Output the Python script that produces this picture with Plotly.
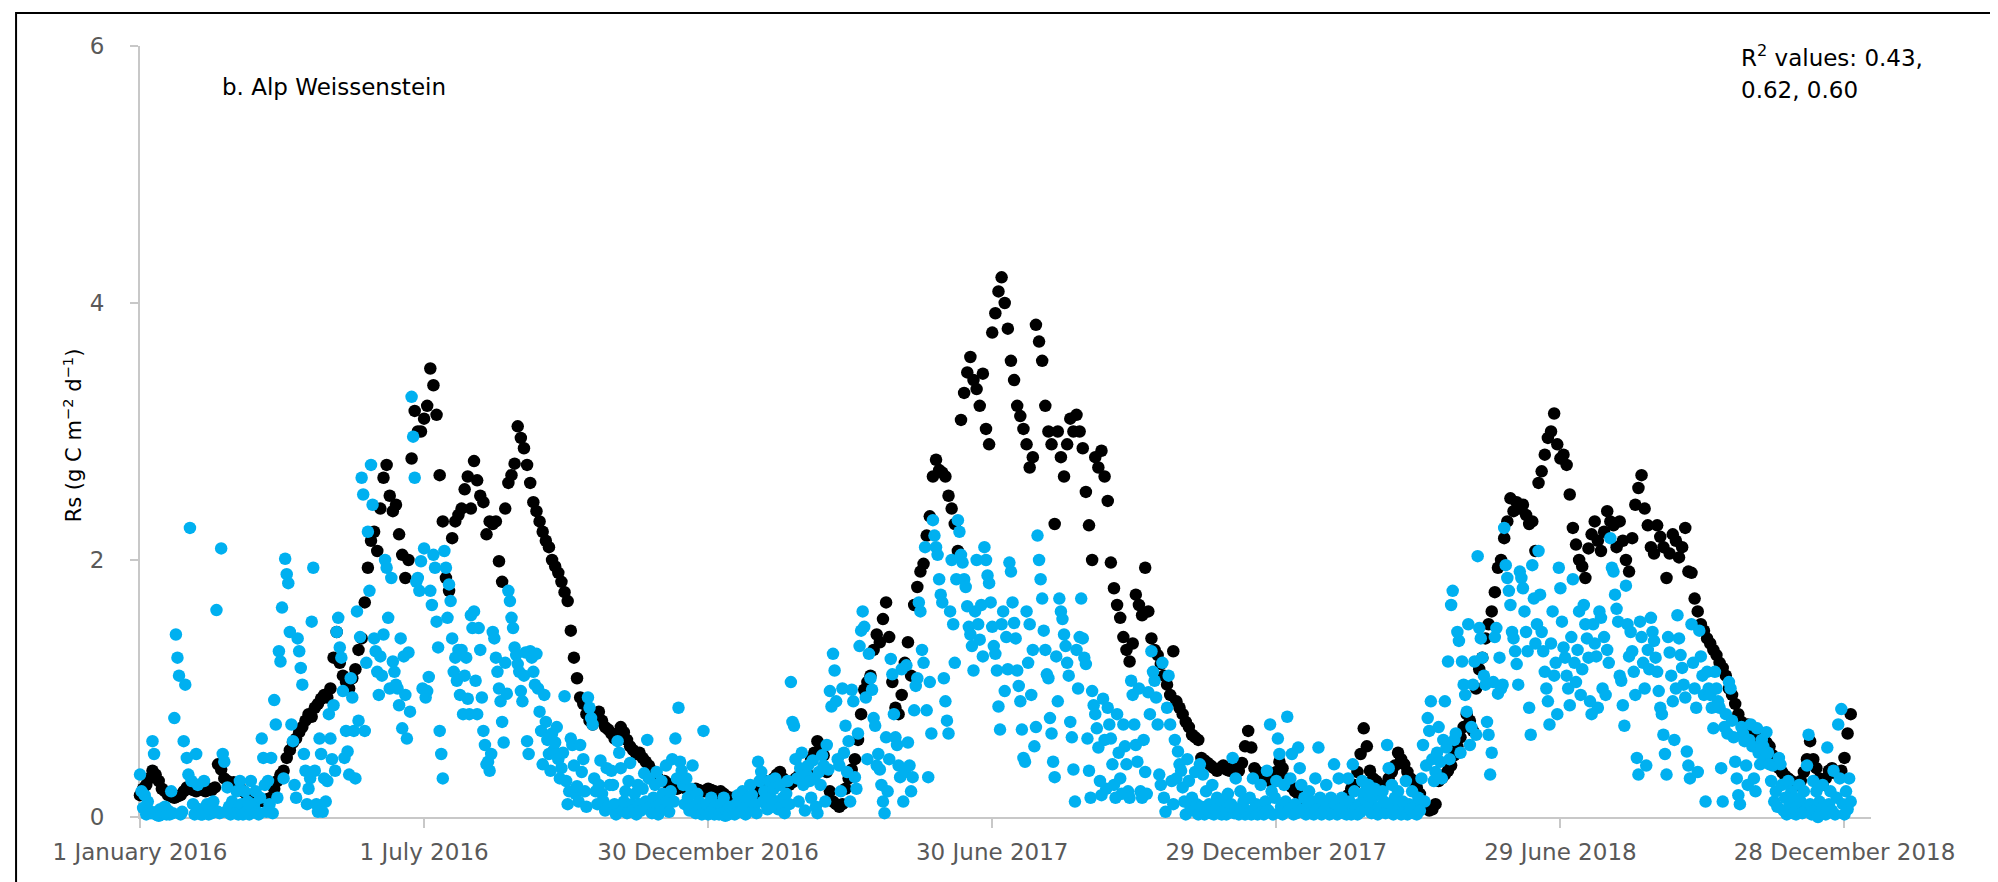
import pandas as pd
import plotly.graph_objects as go

# ---------------- data (values in g C m-2 d-1 x 100) ----------------
START_DATE = "2016-01-01"

# modelled Rs, one value every 2 days starting 1 Jan 2016 (black)
modelled_x100 = [
    17,22,25,30,36,33,28,22,20,17,
    16,15,16,17,20,23,22,21,20,22,
    21,20,22,21,23,41,37,30,28,25,
    27,24,23,20,18,17,15,13,12,13,
    12,14,15,22,28,33,36,46,52,58,
    61,66,70,75,80,78,85,88,92,95,
    93,100,124,144,120,110,105,100,108,115,
    130,139,167,194,215,222,207,240,264,274,
    250,238,243,220,204,186,200,279,316,300,
    300,310,320,349,336,313,266,230,186,176,
    217,230,235,240,255,265,240,277,262,250,
    245,220,230,228,230,199,183,240,260,266,
    275,304,295,287,274,260,245,238,230,222,
    215,210,200,195,190,183,175,168,145,124,
    108,93,88,80,75,72,80,82,75,70,
    68,65,61,65,70,66,60,55,52,49,
    50,46,43,40,36,32,30,28,28,26,
    25,24,22,23,24,22,20,21,22,21,
    20,20,22,21,20,18,20,18,16,15,
    15,13,12,14,12,13,15,18,22,25,
    28,24,26,30,33,35,30,28,25,27,
    30,32,28,30,33,45,50,59,55,48,
    35,20,12,10,8,10,22,30,37,45,
    60,80,99,105,110,130,142,136,154,167,
    140,105,85,80,95,120,136,110,165,179,
    191,197,219,234,265,278,270,268,265,250,
    240,228,207,309,330,346,358,340,333,320,
    345,302,290,377,392,409,420,400,380,355,
    340,320,312,302,290,272,280,383,370,355,
    320,300,290,228,300,280,265,290,310,300,
    313,300,287,253,227,200,280,272,285,265,
    246,198,178,165,155,140,130,121,135,173,
    165,157,194,160,139,130,126,119,110,103,
    95,129,90,85,80,74,70,64,62,60,
    46,44,42,40,38,36,38,40,37,36,
    38,40,36,42,55,67,54,38,35,33,
    30,32,28,30,35,43,38,30,28,23,
    20,18,15,14,12,12,10,9,8,8,
    7,8,7,8,9,10,15,17,22,25,
    35,49,69,55,36,30,28,25,23,25,
    30,35,40,50,45,41,35,30,28,23,
    18,12,8,5,6,10,28,30,33,36,
    40,48,55,62,70,80,75,67,100,115,
    124,139,150,160,175,194,200,217,230,248,
    238,245,240,243,235,228,230,207,260,269,
    282,295,300,314,290,279,282,274,251,225,
    212,200,195,186,209,220,230,215,207,222,
    238,230,227,210,230,215,200,191,217,243,
    256,266,240,227,210,205,227,218,210,186,
    205,220,215,202,210,225,191,190,170,160,
    150,145,139,135,130,126,120,116,110,100,
    95,88,80,74,70,72,68,65,62,60,
    60,58,55,48,41,38,35,32,30,28,
    26,25,28,35,45,59,45,38,30,25,
    30,36,38,34,33,36,46,65,80,
]

# measured Rs, daily values starting 1 Jan 2016 (light blue)
measured_x100 = [
    33,20,7,17,2,12,5,3,59,49,
    2,4,1,6,2,3,8,2,5,2,
    20,3,77,142,124,110,2,4,59,103,
    46,33,225,28,10,2,49,25,6,2,
    2,28,4,10,2,6,3,12,5,161,
    4,3,209,49,43,4,23,8,2,12,
    5,3,20,2,28,10,2,20,4,12,
    2,28,6,10,20,4,2,15,61,46,
    25,4,28,10,46,3,91,72,15,129,
    121,163,30,201,189,182,144,72,59,25,
    15,139,129,116,103,49,36,10,22,30,
    152,194,36,10,4,61,49,4,30,12,
    28,80,61,45,87,36,144,155,132,124,
    98,46,67,51,33,108,93,67,30,160,
    75,140,264,251,67,120,222,176,274,243,
    139,129,113,95,125,110,142,200,194,155,
    100,186,121,113,103,100,87,139,69,125,
    95,61,128,82,327,296,264,183,186,176,
    199,100,209,93,98,109,176,165,204,194,
    152,132,67,49,30,207,194,155,181,168,
    139,113,124,106,130,95,130,80,110,124,
    92,80,157,147,160,106,80,147,130,93,
    67,56,41,43,36,49,144,139,124,113,
    100,90,74,58,120,96,176,168,155,147,
    132,126,119,113,98,90,110,128,59,49,
    129,124,113,103,127,100,82,67,41,95,
    74,60,49,36,65,52,58,70,45,30,
    38,50,94,28,10,20,61,56,40,18,
    24,12,56,35,45,20,8,93,85,77,
    72,30,20,10,25,44,18,12,5,38,
    8,25,36,25,10,2,59,50,38,5,
    12,20,3,28,42,10,5,18,2,25,
    10,5,22,34,12,60,30,8,3,15,
    25,35,2,10,28,18,6,40,12,4,
    20,45,12,61,30,85,43,36,25,10,
    30,15,5,22,40,8,3,18,12,6,
    2,67,5,10,2,3,15,5,2,8,
    4,2,10,3,15,1,5,2,8,3,
    6,2,10,17,12,4,20,10,2,14,
    8,25,17,5,10,3,43,28,35,12,
    20,10,6,28,15,8,22,30,12,6,
    25,9,15,3,18,28,10,105,74,71,
    45,30,12,38,50,25,5,33,40,28,
    15,44,30,8,3,35,25,48,40,12,
    56,37,98,86,127,114,90,45,40,20,
    100,50,71,35,59,12,99,90,31,22,
    65,133,145,160,148,93,45,127,108,99,
    77,71,40,49,37,25,12,3,62,20,
    45,123,111,80,62,56,40,31,115,12,
    35,118,58,40,20,31,83,102,108,167,
    160,130,120,210,83,31,105,65,231,219,
    210,204,185,173,167,108,90,75,65,160,
    200,150,120,185,231,222,204,198,185,179,
    164,148,142,133,114,160,200,150,138,165,
    125,210,200,188,182,167,148,133,127,114,
    86,68,150,160,98,140,115,198,191,167,
    151,139,114,102,90,68,46,43,160,120,
    150,95,130,55,70,219,200,185,170,145,
    130,111,108,77,65,43,31,125,90,170,
    160,154,142,133,120,110,74,62,37,12,
    130,100,140,170,139,124,119,61,36,15,
    98,87,80,69,54,28,17,92,60,22,
    85,72,61,41,25,15,80,50,30,18,
    72,55,41,20,15,106,95,72,56,43,
    100,20,15,60,35,18,97,80,129,113,
    106,93,72,33,25,120,15,4,85,110,
    72,28,10,60,30,51,41,36,23,12,
    2,45,28,8,15,5,35,10,2,41,
    8,33,2,20,5,10,3,25,2,6,
    15,3,8,2,12,5,2,18,4,10,
    46,3,30,6,2,20,8,12,2,5,
    3,15,2,30,6,10,2,8,25,4,
    2,12,36,5,72,20,2,15,28,61,
    49,8,2,25,12,78,5,30,49,2,
    10,3,54,38,25,6,15,2,8,20,
    3,12,2,30,6,54,15,2,10,5,
    25,8,2,15,3,41,10,2,30,6,
    15,3,8,2,30,12,2,41,20,6,
    2,10,4,28,15,20,6,25,10,3,
    15,22,5,2,18,8,20,12,3,56,
    38,10,25,2,15,5,20,8,2,12,
    4,28,2,10,6,20,3,8,2,15,
    5,30,56,12,40,77,67,90,45,28,
    35,50,70,43,30,60,90,54,121,45,
    165,176,60,65,144,137,50,121,103,95,
    82,150,56,70,103,121,64,203,147,139,
    124,110,103,74,64,33,50,105,140,147,
    96,124,100,103,225,196,186,176,165,144,
    139,129,119,103,191,186,178,160,144,129,
    85,64,196,170,135,150,207,173,144,129,
    113,100,90,72,135,160,110,120,80,194,
    178,152,132,124,110,100,87,140,185,120,
    105,130,160,95,115,165,150,139,124,90,
    80,150,135,125,85,160,155,100,140,95,
    130,120,217,194,191,173,162,152,110,106,
    87,71,180,150,125,144,129,113,95,46,
    33,152,140,120,100,40,130,115,155,144,
    137,124,113,98,85,80,64,49,33,140,
    128,110,90,60,100,157,139,126,116,103,
    93,51,40,30,150,120,100,85,35,145,
    125,110,95,12,113,100,95,85,69,113,
    100,90,85,38,12,70,80,65,105,100,
    75,62,43,30,17,10,70,65,59,40,
    25,60,72,55,30,20,69,50,41,60,
    55,45,66,50,41,28,40,12,20,8,
    46,41,25,5,15,2,28,10,20,3,
    15,2,8,25,12,3,20,5,40,64,
    10,2,28,5,20,0,12,3,25,8,
    2,54,10,20,5,36,2,15,72,30,
    84,10,2,20,6,30,12,
]

tick_dates = ["2016-01-01", "2016-07-01", "2016-12-30", "2017-06-30",
              "2017-12-29", "2018-06-29", "2018-12-28"]
tick_labels = ["1 January 2016", "1 July 2016", "30 December 2016", "30 June 2017",
               "29 December 2017", "29 June 2018", "28 December 2018"]
y_ticks = [0, 2, 4, 6]

modelled = [v / 100 for v in modelled_x100]
measured = [v / 100 for v in measured_x100]
modelled_dates = pd.date_range(START_DATE, periods=len(modelled), freq="2D")
measured_dates = pd.date_range(START_DATE, periods=len(measured), freq="D")

FONT = "DejaVu Sans"
AXIS_GREY = "#C8C8C8"
TICK_GREY = "#595959"

fig = go.Figure()
fig.add_trace(go.Scatter(x=modelled_dates, y=modelled, mode="markers",
                         marker=dict(color="#000000", size=12.5, line=dict(width=0)),
                         cliponaxis=False, name="modelled", showlegend=False))
fig.add_trace(go.Scatter(x=measured_dates, y=measured, mode="markers",
                         marker=dict(color="#00B0F0", size=12.5, line=dict(width=0)),
                         cliponaxis=False, name="measured", showlegend=False))

fig.update_layout(
    width=1998, height=882,
    margin=dict(l=132, r=135, t=38, b=73),
    paper_bgcolor="white", plot_bgcolor="white",
    font=dict(family=FONT, color=TICK_GREY),
    xaxis=dict(type="date", range=["2016-01-01", "2019-01-14"],
               tickvals=tick_dates, ticktext=tick_labels,
               showline=True, linecolor=AXIS_GREY, linewidth=2,
               ticks="outside", ticklen=9, tickcolor=AXIS_GREY, tickwidth=2,
               showgrid=False, zeroline=False, layer="below traces",
               tickfont=dict(family=FONT, size=23, color=TICK_GREY),
               ticklabelstandoff=4),
    yaxis=dict(range=[0, 6], tickvals=y_ticks,
               showline=True, linecolor=AXIS_GREY, linewidth=2,
               ticks="outside", ticklen=8, tickcolor=AXIS_GREY, tickwidth=2,
               showgrid=False, zeroline=False, layer="below traces",
               tickfont=dict(family=FONT, size=23, color=TICK_GREY),
               ticklabelstandoff=21),
)

# y-axis title
fig.add_annotation(text="Rs (g C m<sup>\u22122</sup> d<sup>\u22121</sup>)",
                   xref="paper", yref="paper", x=-0.0387, y=0.495,
                   xanchor="center", yanchor="middle", textangle=-90,
                   showarrow=False, font=dict(family=FONT, size=21, color="#000000"))

fig.add_annotation(text="b. Alp Weissenstein", xref="paper", yref="paper",
                   x=0.0462, y=0.947, xanchor="left", yanchor="middle",
                   showarrow=False, font=dict(family=FONT, size=23, color="#000000"))
fig.add_annotation(text="R<sup>2</sup> values: 0.43,", xref="paper", yref="paper",
                   x=0.9237, y=0.987, xanchor="left", yanchor="middle",
                   showarrow=False, font=dict(family=FONT, size=23, color="#000000"))
fig.add_annotation(text="0.62, 0.60", xref="paper", yref="paper",
                   x=0.9237, y=0.943, xanchor="left", yanchor="middle",
                   showarrow=False, font=dict(family=FONT, size=23, color="#000000"))

# chart-area frame
fig.add_shape(type="rect", xref="paper", yref="paper",
              x0=-0.0716, x1=1.0745, y0=-0.092, y1=1.0428,
              line=dict(color="#000000", width=2), fillcolor="rgba(0,0,0,0)",
              layer="above")

fig.write_html("out.html")
